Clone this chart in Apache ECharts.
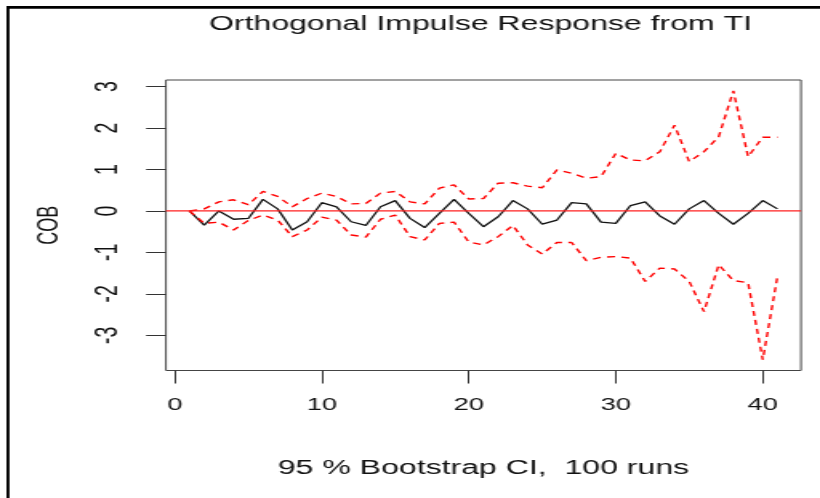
<!DOCTYPE html>
<html lang="en">
<head>
	<meta charset="UTF-8">
	<script src="https://cdn.jsdelivr.net/npm/echarts@6/dist/echarts.min.js"></script>
	<title>Orthogonal Impulse Response from TI</title>
	<style>
		html, body { margin: 0; padding: 0; overflow: hidden; background: #fff; }
		/* the original picture is stretched sideways, so the chart is drawn narrow and widened */
		#irf { width: 512px; height: 498px; transform: scaleX(1.6016); transform-origin: 0 0; }
	</style>
</head>
<body>
<div id="irf"></div>
<script type="text/javascript">
	// horizon 1..41
	var steps = [];
	for (var i = 1; i <= 41; i++) steps.push(i);

	// response of COB to a TI shock
	var irfValues = [0, -0.34, 0, -0.2, -0.18, 0.28, 0.05, -0.46, -0.26, 0.2,
		0.1, -0.26, -0.35, 0.1, 0.25, -0.18, -0.4, -0.06, 0.28, -0.06,
		-0.38, -0.14, 0.25, 0.05, -0.32, -0.22, 0.2, 0.17, -0.27, -0.3,
		0.13, 0.22, -0.12, -0.32, 0.05, 0.25, -0.06, -0.32, -0.06, 0.25, 0.05];
	// bootstrap bands
	var upperValues = [0, 0.05, 0.22, 0.27, 0.15, 0.47, 0.35, 0.1, 0.3, 0.43,
		0.35, 0.17, 0.18, 0.43, 0.47, 0.22, 0.17, 0.55, 0.63, 0.29,
		0.3, 0.67, 0.68, 0.6, 0.56, 0.99, 0.91, 0.79, 0.83, 1.39,
		1.23, 1.21, 1.43, 2.07, 1.19, 1.43, 1.79, 2.9, 1.31, 1.78, 1.78];
	var lowerValues = [0, -0.3, -0.27, -0.46, -0.23, -0.1, -0.22, -0.62, -0.46, -0.15,
		-0.22, -0.58, -0.63, -0.2, -0.1, -0.62, -0.7, -0.3, -0.27, -0.75,
		-0.82, -0.62, -0.35, -0.82, -1.04, -0.76, -0.76, -1.2, -1.12, -1.1,
		-1.14, -1.7, -1.38, -1.4, -1.7, -2.43, -1.3, -1.68, -1.73, -3.59, -1.58];

	var xTicks = [0, 10, 20, 30, 40];
	var yTicks = [-3, -2, -1, 0, 1, 2, 3];
	var xRange = [-0.6, 42.6];
	var yRange = [-3.85, 3.16];
	var zeroLevel = 0;

	function pairs(vals) {
		return steps.map(function (s, i) { return [s, vals[i]]; });
	}

	var font = 'Liberation Sans, Arial, sans-serif';
	var chart = echarts.init(document.getElementById('irf'));

	var option = {
		animation: false,
		title: {
			text: 'Orthogonal Impulse Response from TI',
			left: 300,
			top: 14.5,
			padding: 0,
			textAlign: 'center',
			textStyle: { fontFamily: font, fontSize: 20, fontWeight: 'normal', color: '#111' }
		},
		grid: {
			left: 103.6,
			right: 11.9,
			top: 80,
			bottom: 127.5,
			show: true,
			borderColor: '#444',
			borderWidth: 1
		},
		xAxis: {
			type: 'value',
			min: xRange[0],
			max: xRange[1],
			name: '95 % Bootstrap CI,  100 runs',
			nameLocation: 'middle',
			nameGap: 88,
			nameTextStyle: { fontFamily: font, fontSize: 20, color: '#111' },
			axisLine: { show: false, onZero: false },
			splitLine: { show: false },
			axisTick: { customValues: xTicks, length: 13, lineStyle: { color: '#333' } },
			axisLabel: { customValues: xTicks, margin: 26, fontFamily: font, fontSize: 17, color: '#111' }
		},
		yAxis: {
			type: 'value',
			min: yRange[0],
			max: yRange[1],
			name: 'COB',
			nameLocation: 'middle',
			nameRotate: 90,
			nameGap: 64,
			nameTextStyle: { fontFamily: font, fontSize: 18, color: '#111' },
			axisLine: { show: false, onZero: false },
			splitLine: { show: false },
			axisTick: { customValues: yTicks, length: 12.4, lineStyle: { color: '#333' } },
			axisLabel: { customValues: yTicks, rotate: 90, margin: 26, fontFamily: font, fontSize: 19.5, color: '#111' }
		},
		graphic: [
			{ type: 'rect', shape: { x: 4, y: 6, width: 520, height: 2.7 }, style: { fill: '#000' } },
			{ type: 'rect', shape: { x: 4, y: 6, width: 1.9, height: 500 }, style: { fill: '#000' } }
		],
		series: [
			{
				name: 'irf',
				type: 'line',
				data: pairs(irfValues),
				showSymbol: false,
				lineStyle: { color: '#111', width: 1.3 },
				z: 3
			},
			{
				name: 'zero',
				type: 'line',
				data: [[xRange[0], zeroLevel], [xRange[1], zeroLevel]],
				showSymbol: false,
				lineStyle: { color: '#ff2020', width: 1.2 },
				z: 4
			},
			{
				name: 'upper',
				type: 'line',
				data: pairs(upperValues),
				showSymbol: false,
				lineStyle: { color: '#ff0000', width: 1.4, type: [5, 4] }
			},
			{
				name: 'lower',
				type: 'line',
				data: pairs(lowerValues),
				showSymbol: false,
				lineStyle: { color: '#ff0000', width: 1.4, type: [5, 4] }
			}
		]
	};
	chart.setOption(option);
</script>
</body>
</html>
